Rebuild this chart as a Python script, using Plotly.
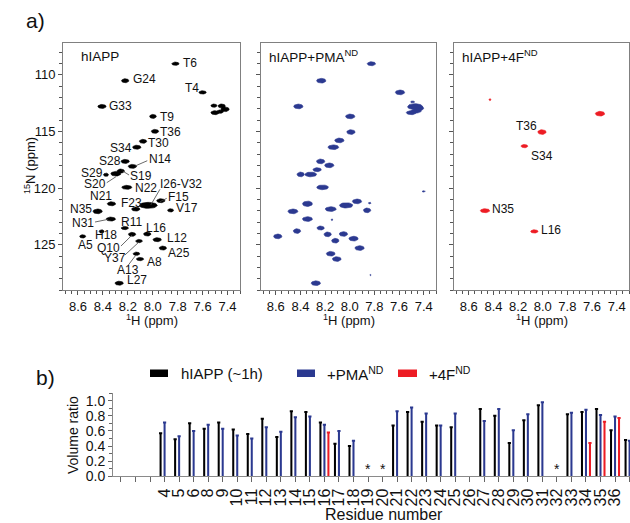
import numpy as np
import plotly.graph_objects as go

W, H = 630, 523
FONT = "Arial, Liberation Sans, Helvetica, sans-serif"
BLUE = "#2B3990"
RED = "#ED1C24"
BLACK = "#000000"

# ---------------- panel a : peak lists (1H ppm, 15N ppm) ----------------
hiapp_H = [7.818, 8.221, 7.600, 7.509, 7.447, 7.420, 7.500, 7.460, 8.407, 7.998, 7.982, 8.078,
           8.128, 8.221, 8.163, 8.375, 8.296, 8.256, 8.208, 8.331, 8.136, 8.036, 7.935, 7.857,
           8.442, 8.336, 8.224, 8.410, 8.562, 8.044, 8.166, 7.964, 8.110, 7.919, 8.131, 8.102, 8.269]
hiapp_N = [109.03, 110.53, 111.56, 112.73, 112.76, 113.05, 113.35, 113.26, 112.80, 113.68, 115.00, 115.88,
           116.40, 117.65, 118.09, 118.83, 118.74, 118.50, 119.94, 121.39, 121.86, 121.53, 121.12, 121.97,
           122.06, 122.74, 123.53, 123.83, 124.27, 124.06, 124.09, 124.56, 124.68, 125.30, 125.80, 126.27, 128.40]
hiapp_wpx = [7.3, 7.3, 7.3, 6.0, 7.3, 8.3, 8.3, 6.7, 8.3, 6.7, 7.3, 7.3,
             8.3, 8.3, 8.3, 5.0, 10.0, 7.3, 10.0, 8.3, 8.3, 18.0, 8.3, 6.0,
             9.3, 9.3, 7.3, 5.0, 6.0, 7.3, 7.3, 8.3, 6.7, 7.3, 6.7, 7.3, 8.3]
hiapp_hpx = [3.3, 4.0, 3.3, 3.3, 4.0, 4.7, 4.0, 3.3, 4.0, 4.0, 4.0, 4.0,
             4.0, 4.0, 4.0, 3.3, 4.7, 4.0, 4.0, 4.0, 4.0, 6.0, 4.0, 3.3,
             4.7, 4.0, 3.3, 3.3, 3.3, 4.0, 4.0, 4.0, 3.3, 4.0, 3.3, 3.3, 4.0]

pma_H = [7.824, 8.231, 7.592, 7.490, 7.470, 7.500, 7.430, 7.460, 8.417, 7.996, 7.990, 8.084, 8.133,
         8.236, 8.166, 8.398, 8.316, 8.264, 8.220, 8.343, 8.154, 8.029, 7.941, 7.859, 7.838, 8.461,
         8.343, 8.144, 8.236, 8.428, 8.584, 8.051, 8.179, 7.969, 8.117, 7.920, 8.154, 8.105, 8.275,
         7.400, 7.832]
pma_N = [109.03, 110.53, 111.56, 112.40, 112.82, 113.35, 112.96, 113.20, 112.80, 113.68, 115.06, 115.80, 116.40,
         117.65, 118.00, 118.80, 118.80, 118.38, 119.94, 121.39, 121.86, 121.53, 121.18, 121.97, 121.33, 122.06,
         122.74, 122.80, 123.53, 123.80, 124.27, 124.06, 124.09, 124.47, 124.65, 125.30, 125.80, 126.27, 128.40,
         120.30, 127.68]
pma_wpx = [8.3, 9.3, 9.3, 4.0, 15.0, 10.0, 7.3, 10.0, 9.3, 9.3, 8.3, 9.3, 10.7,
           8.3, 9.3, 7.3, 11.7, 8.3, 11.7, 10.0, 11.0, 13.3, 9.3, 7.3, 2.7, 10.0,
           10.0, 2.0, 7.3, 7.3, 8.3, 8.3, 7.3, 9.3, 7.3, 9.3, 8.7, 8.7, 9.3,
           3.3, 1.3]
pma_hpx = [4.0, 4.7, 4.7, 2.0, 6.0, 4.0, 4.7, 4.0, 4.7, 4.7, 4.7, 4.7, 4.7,
           4.7, 4.7, 4.7, 4.7, 4.0, 4.7, 5.3, 4.7, 5.3, 4.7, 4.7, 1.7, 4.7,
           4.7, 1.7, 4.0, 4.7, 4.7, 4.7, 4.7, 4.7, 4.7, 4.7, 4.7, 4.7, 4.7,
           1.3, 1.3]

f4_H = [8.428, 7.535, 8.006, 8.149, 8.468, 8.068]
f4_N = [112.20, 113.44, 115.06, 116.30, 122.00, 123.83]
f4_wpx = [2.0, 9.3, 8.3, 6.7, 9.3, 7.3]
f4_hpx = [2.0, 4.7, 4.7, 3.3, 4.0, 3.3]

# peak labels
lab1_text = ["T6", "G24", "T4", "G33", "T9", "T36", "T30", "S34", "S28", "N14", "S29", "S19", "S20",
             "N22", "I26-V32", "N21", "F23", "F15", "V17", "N35", "N31", "R11", "L16", "H18", "A5",
             "L12", "Q10", "A25", "Y37", "A8", "A13", "L27"]
lab1_x = [7.768, 8.164, 7.621, 8.361, 7.950, 7.950, 8.044, 8.156, 8.249, 8.036, 8.389, 8.190, 8.369,
          8.150, 7.947, 8.316, 8.081, 7.883, 7.821, 8.482, 8.463, 8.263, 8.065, 8.469, 8.605,
          7.894, 8.455, 7.883, 8.397, 8.054, 8.295, 8.215]
lab1_y = [108.99, 110.40, 111.20, 112.73, 113.70, 115.03, 116.00, 116.44, 117.59, 117.44, 118.70, 118.94, 119.67,
          119.97, 119.64, 120.70, 121.35, 120.77, 121.74, 121.88, 123.11, 123.03, 123.56, 124.15, 125.03,
          124.44, 125.32, 125.76, 126.20, 126.50, 127.24, 128.10]
lab1_anchor = ["left", "left", "right", "left", "left", "left", "left", "right", "right", "left", "right", "left", "right",
               "left", "left", "right", "right", "left", "left", "right", "right", "left", "left", "left", "left",
               "left", "left", "left", "left", "left", "left", "left"]
leaders1 = [((8.142, 118.06), (8.044, 117.59)), ((8.241, 118.50), (8.190, 118.85)),
            ((8.369, 119.53), (8.295, 119.00)), ((8.016, 121.50), (7.942, 120.11)),
            ((7.942, 121.21), (7.888, 120.91)), ((8.463, 123.00), (8.357, 122.76)),
            ((8.255, 125.12), (8.166, 124.15)), ((8.223, 125.91), (8.108, 124.74)),
            ((8.196, 126.80), (8.134, 125.90))]

lab3_text = ["T36", "S34", "N35", "L16"]
lab3_x = [8.036, 8.103, 8.422, 8.022]
lab3_y = [114.50, 117.15, 121.88, 123.70]
lab3_anchor = ["right", "left", "left", "left"]

# ---------------- panel b : volume ratios ----------------
slots = ["", "", "", "4", "5", "6", "8", "9", "10", "11", "12", "13", "14", "15", "16", "17", "18",
         "19", "20", "21", "22", "23", "24", "25", "26", "27", "28", "29", "30", "31", "32", "33", "34",
         "35", "36", "37"]
residues = slots[3:]
vr_hiapp = [0.57, 0.49, 0.70, 0.63, 0.71, 0.62, 0.56, 0.76, 0.52, 0.86, 0.85, 0.71, 0.43, 0.40,
            None, None, 0.67, 0.85, 0.72, 0.67, 0.65, None, 0.89, 0.80, 0.44, 0.74, 0.94, None,
            0.82, 0.85, 0.89, 0.61, 0.48]
vr_pma = [0.71, 0.53, 0.60, 0.68, 0.63, 0.54, 0.50, 0.65, 0.59, 0.78, 0.79, 0.68, 0.60, 0.47,
          None, None, 0.86, 0.91, 0.83, 0.67, 0.83, None, 0.73, 0.89, 0.61, 0.82, 0.98, None,
          0.84, 0.88, 0.81, 0.79, 0.47]
vr_4f = [None, None, None, None, None, None, None, None, None, None, None, 0.58, None, None,
         None, None, None, None, None, None, None, None, None, None, None, None, None, None,
         None, 0.44, 0.72, 0.77, None]
star_res = ["19", "20", "32"]

# slot index of each residue (position on the residue axis)
res_pos = [slots.index(r) for r in residues]
star_pos = [slots.index(r) for r in star_res]

# ---------------- geometry helpers ----------------
def px(x):
    return x / W

def py(y):
    return 1 - y / H

XR = [8.72, 7.30]
YR = [129.0, 107.2]
panels = [(63, 240), (261, 436), (454, 629)]
top, bot = 43, 290
KY = (bot - top) / (YR[0] - YR[1])


def ellipses(xc, yc, wp, hp, kx):
    xs, ys = [], []
    t = np.linspace(0, 2 * np.pi, 30)
    for a, b, w, h in zip(xc, yc, wp, hp):
        xs += list(a + (w / 2) / kx * np.cos(t)) + [None]
        ys += list(b + (h / 2) / KY * np.sin(t)) + [None]
    return xs, ys


fig = go.Figure()
spectra = [(hiapp_H, hiapp_N, hiapp_wpx, hiapp_hpx, BLACK),
           (pma_H, pma_N, pma_wpx, pma_hpx, BLUE),
           (f4_H, f4_N, f4_wpx, f4_hpx, RED)]
for i, (hx, nx, wp, hp, col) in enumerate(spectra):
    kx = (panels[i][1] - panels[i][0]) / (XR[0] - XR[1])
    xs, ys = ellipses(hx, nx, wp, hp, kx)
    sfx = "" if i == 0 else str(i + 1)
    fig.add_trace(go.Scatter(x=xs, y=ys, mode="lines", fill="toself", fillcolor=col,
                             line=dict(color=col, width=0.6), hoverinfo="skip",
                             showlegend=False, xaxis="x" + sfx, yaxis="y" + sfx))

# bars
bar_w = 0.14
for vals, col, off in [(vr_hiapp, BLACK, -0.345), (vr_pma, BLUE, -0.07), (vr_4f, RED, 0.205)]:
    fig.add_trace(go.Bar(x=res_pos, y=vals, marker=dict(color=col, line=dict(width=0)),
                         width=bar_w, offset=off, xaxis="x4", yaxis="y4", showlegend=False,
                         error_y=dict(type="data", array=[0] * len(vals), visible=True,
                                      color=col, thickness=2, width=1.6)))

tickfont = dict(family=FONT, size=13, color="#111")
ax_common = dict(showline=True, mirror=True, linecolor="#808080", linewidth=1, ticks="outside",
                 ticklen=4, tickwidth=1, tickcolor="#555", showgrid=False, zeroline=False,
                 tickfont=tickfont, automargin=False)
layout = dict(template="none", width=W, height=H, margin=dict(l=0, r=0, t=0, b=0, pad=0),
              autosize=False, paper_bgcolor="white", plot_bgcolor="white", barmode="overlay",
              font=dict(family=FONT, size=13, color="#111"), showlegend=False)
for i, (x0, x1) in enumerate(panels):
    sfx = "" if i == 0 else str(i + 1)
    layout["xaxis" + sfx] = dict(ax_common, domain=[px(x0), px(x1)], anchor="y" + sfx,
                                 range=XR, tickmode="array",
                                 tickvals=[8.6, 8.4, 8.2, 8.0, 7.8, 7.6, 7.4],
                                 ticktext=["8.6", "8.4", "8.2", "8.0", "7.8", "7.6", "7.4"],
                                 minor=dict(ticks="outside", ticklen=3, tickmode="linear",
                                            tick0=7.4, dtick=0.05, tickcolor="#555", showgrid=False))
    layout["yaxis" + sfx] = dict(ax_common, domain=[py(bot), py(top)], anchor="x" + sfx,
                                 range=YR, tickmode="array", tickvals=[110, 115, 120, 125],
                                 showticklabels=(i == 0),
                                 minor=dict(ticks="outside", ticklen=3, tickmode="linear",
                                            tick0=110, dtick=1, tickcolor="#555", showgrid=False))

bfont = dict(family=FONT, size=15, color="#111")
layout["xaxis4"] = dict(domain=[px(113), 1.0], anchor="y4", type="linear", automargin=False,
                        range=[-0.55, 35.03], tickmode="array",
                        tickvals=list(range(len(slots))), ticktext=slots,
                        showline=True, linecolor="#8a8a8a", linewidth=1, ticks="outside",
                        ticklen=5, tickcolor="#666", tickangle=-90, showgrid=False, zeroline=False,
                        tickfont=dict(family=FONT, size=16, color="#111"))
layout["yaxis4"] = dict(domain=[py(476.3), py(393.1)], anchor="x4", range=[0, 1.1],
                        automargin=False,
                        tickmode="array", tickvals=[0, 0.2, 0.4, 0.6, 0.8, 1.0],
                        ticktext=["0.0", "0.2", "0.4", "0.6", "0.8", "1.0"],
                        showline=True, linecolor="#8a8a8a", linewidth=1, ticks="outside",
                        ticklen=4, tickcolor="#666", showgrid=False, zeroline=False,
                        tickfont=dict(family=FONT, size=14, color="#111"),
                        minor=dict(ticks="outside", ticklen=3, tickmode="linear", tick0=0,
                                   dtick=0.1, tickcolor="#666", showgrid=False))
fig.update_layout(**layout)

ann = []
lfont = dict(family=FONT, size=12, color="#111")
for t, x, y, a in zip(lab1_text, lab1_x, lab1_y, lab1_anchor):
    ann.append(dict(text=t, x=x, y=y, xref="x", yref="y", xanchor=a, yanchor="middle",
                    showarrow=False, font=lfont, borderpad=0))
for t, x, y, a in zip(lab3_text, lab3_x, lab3_y, lab3_anchor):
    ann.append(dict(text=t, x=x, y=y, xref="x3", yref="y3", xanchor=a, yanchor="middle",
                    showarrow=False, font=lfont, borderpad=0))
for t, xp in [("hIAPP", 79), ("hIAPP+PMA<sup>ND</sup>", 267), ("hIAPP+4F<sup>ND</sup>", 460)]:
    ann.append(dict(text=t, x=px(xp), y=py(56), xref="paper", yref="paper", xanchor="left",
                    yanchor="middle", showarrow=False, font=dict(family=FONT, size=13.5, color="#111")))
for (x0, x1) in panels:
    ann.append(dict(text="<sup>1</sup>H (ppm)", x=px((x0 + x1) / 2), y=py(319.5), xref="paper",
                    yref="paper", xanchor="center", yanchor="middle", showarrow=False,
                    font=dict(family=FONT, size=13, color="#111")))
ann.append(dict(text="<sup>15</sup>N (ppm)", x=px(30), y=py(166), xref="paper", yref="paper",
                textangle=-90, xanchor="center", yanchor="middle", showarrow=False,
                font=dict(family=FONT, size=13, color="#111")))
ann.append(dict(text="a)", x=px(24), y=py(21), xref="paper", yref="paper", xanchor="left",
                yanchor="middle", showarrow=False, font=dict(family=FONT, size=21, color="#111")))
ann.append(dict(text="b)", x=px(34), y=py(377), xref="paper", yref="paper", xanchor="left",
                yanchor="middle", showarrow=False, font=dict(family=FONT, size=21, color="#111")))
ann.append(dict(text="Volume ratio", x=px(73), y=py(435), xref="paper", yref="paper",
                textangle=-90, xanchor="center", yanchor="middle", showarrow=False,
                font=dict(family=FONT, size=14, color="#111")))
ann.append(dict(text="Residue number", x=px(384), y=py(514), xref="paper", yref="paper",
                xanchor="center", yanchor="middle", showarrow=False,
                font=dict(family=FONT, size=16, color="#111")))
for p in star_pos:
    ann.append(dict(text="*", x=p, y=0.1, xref="x4", yref="y4", xanchor="center",
                    yanchor="middle", showarrow=False, font=dict(family=FONT, size=14, color="#111")))
# manual legend
shapes = []
for (x0, x1), col, t, tx in [((150, 168), BLACK, "hIAPP (~1h)", 179),
                             ((297, 315), BLUE, "+PMA<sup>ND</sup>", 325),
                             ((398, 417), RED, "+4F<sup>ND</sup>", 427)]:
    shapes.append(dict(type="rect", xref="paper", yref="paper", x0=px(x0), x1=px(x1),
                       y0=py(377), y1=py(369.5), fillcolor=col, line=dict(width=0)))
    ann.append(dict(text=t, x=px(tx), y=py(373), xref="paper", yref="paper", xanchor="left",
                    yanchor="middle", showarrow=False, font=bfont))
for (a, b) in leaders1:
    shapes.append(dict(type="line", xref="x", yref="y", x0=a[0], y0=a[1], x1=b[0], y1=b[1],
                       line=dict(color="#444", width=0.8)))
fig.update_layout(annotations=ann, shapes=shapes)
fig.write_html("out.html",
               config={"responsive": False, "displayModeBar": False},
               post_script="document.body.style.margin='0px';document.body.style.padding='0px';"
                           "document.documentElement.style.overflow='hidden';")
